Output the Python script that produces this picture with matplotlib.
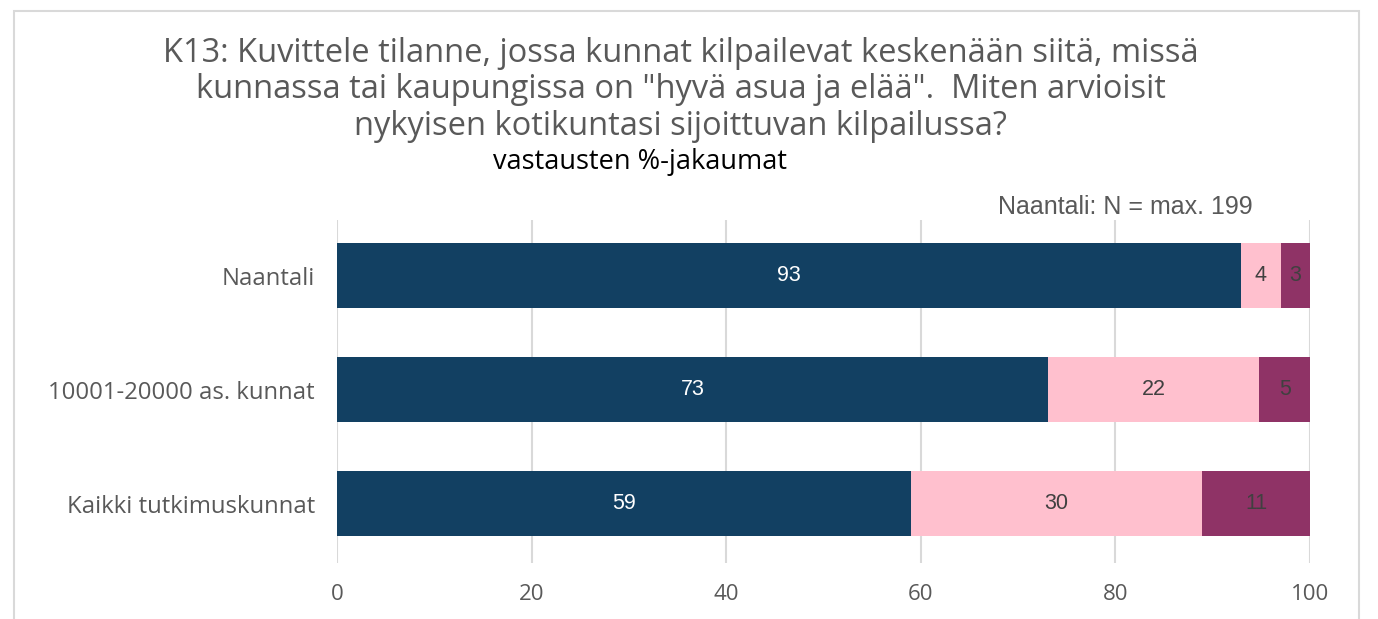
import numpy as np
import matplotlib.pyplot as plt
from matplotlib.patches import Rectangle

# data (percent)
categories = ["Naantali", "10001-20000 as. kunnat", "Kaikki tutkimuskunnat"]
good = [92.9, 73.1, 59.0]
medium = [4.1, 21.7, 29.9]
poor = [3.0, 5.2, 11.1]
labels_good = ["93", "73", "59"]
labels_medium = ["4", "22", "30"]
labels_poor = ["3", "5", "11"]
xticks = [0, 20, 40, 60, 80, 100]

C_DARK = "#124062"
C_PINK = "#FFC0CE"
C_PURPLE = "#8F3366"
GRAY = "#595959"

plt.rcParams['font.family'] = ['Open Sans', 'DejaVu Sans']

fig = plt.figure(figsize=(13.78, 6.19), dpi=100)
ax = fig.add_axes([0.2446, 0.0905, 0.7061, 0.5541])

y = np.arange(len(categories))
h = 0.57
ax.barh(y, good, height=h, color=C_DARK, zorder=3)
ax.barh(y, medium, left=good, height=h, color=C_PINK, zorder=3)
left3 = np.array(good) + np.array(medium)
ax.barh(y, poor, left=left3, height=h, color=C_PURPLE, zorder=3)

for i in range(len(categories)):
    ax.text(good[i] / 2, y[i], labels_good[i], ha="center", va="center",
            color="white", fontsize=15.5, family="Liberation Sans", zorder=4)
    ax.text(good[i] + medium[i] / 2, y[i], labels_medium[i], ha="center",
            va="center", color="#404040", fontsize=15.5, family="Liberation Sans", zorder=4)
    ax.text(left3[i] + poor[i] / 2, y[i], labels_poor[i], ha="center",
            va="center", color="#404040", fontsize=15.5, family="Liberation Sans", zorder=4)

ax.set_xlim(0, 100)
ax.set_ylim(2.52, -0.49)
ax.set_yticks(y)
ax.set_yticklabels(categories, fontsize=17.2, color=GRAY)
ax.set_xticks(xticks)
ax.set_xticklabels([str(t) for t in xticks], fontsize=16, color=GRAY)
ax.tick_params(axis="both", length=0)
ax.tick_params(axis="y", pad=16)
ax.tick_params(axis="x", pad=15)
ax.grid(axis="x", color="#D9D9D9", linewidth=1.5, zorder=0)
for s in ax.spines.values():
    s.set_visible(False)

fig.text(0.494, 1 - 90 / 619,
         "K13: Kuvittele tilanne, jossa kunnat kilpailevat keskenään siitä, missä\n"
         "kunnassa tai kaupungissa on \"hyvä asua ja elää\".  Miten arvioisit\n"
         "nykyisen kotikuntasi sijoittuvan kilpailussa?",
         ha="center", va="center", fontsize=23.5, color=GRAY, linespacing=1.15)
fig.text(0.4644, 1 - 162 / 619, "vastausten %-jakaumat", ha="center", va="center",
         fontsize=19.5, color="black")
fig.text(1253 / 1378, 1 - 207 / 619, "Naantali: N = max. 199", ha="right", va="center",
         fontsize=18, color=GRAY, family="Liberation Sans")

# outer frame
fig.patches.append(Rectangle((14 / 1378, -0.1), (1359 - 14) / 1378, 1.1 - 11 / 619,
                             transform=fig.transFigure, fill=False,
                             edgecolor="#D9D9D9", linewidth=1.5))

fig.savefig("out.png", dpi=100)
